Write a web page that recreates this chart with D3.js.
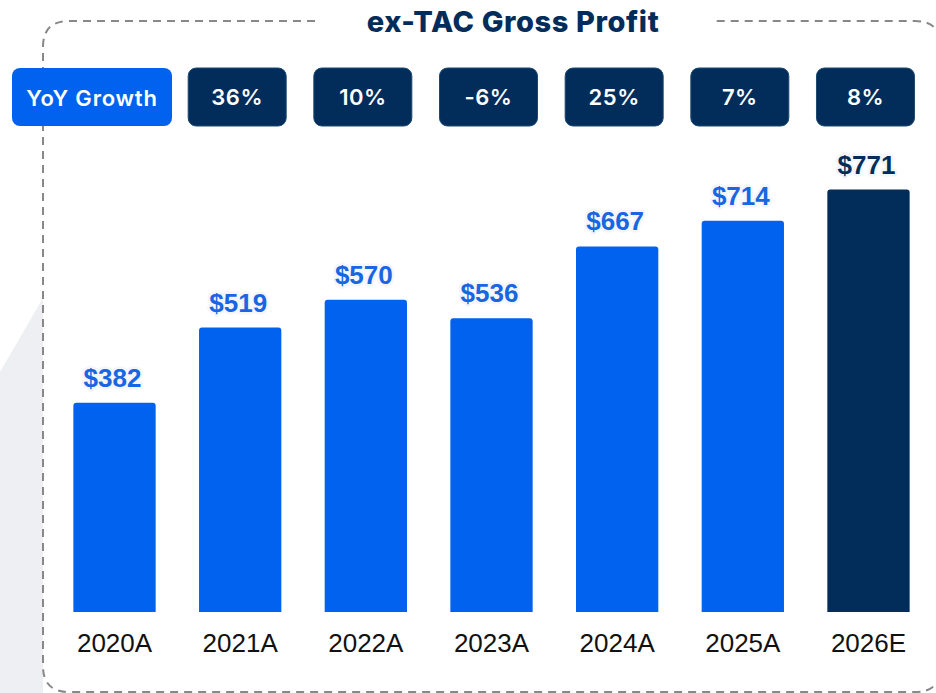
<!DOCTYPE html>
<html><head><meta charset="utf-8">
<script src="https://cdn.jsdelivr.net/npm/d3@7/dist/d3.min.js"></script>
<style>html,body{margin:0;padding:0;background:#fff;}svg{display:block;}</style>
</head><body>
<script>
const categories = ["2020A","2021A","2022A","2023A","2024A","2025A","2026E"];
const values = [382, 519, 570, 536, 667, 714, 771];
const estimate = [false,false,false,false,false,false,true];
const growthLabels = ["36%","10%","-6%","25%","7%","8%"];
const title = "ex-TAC Gross Profit";
const growthTitle = "YoY Growth";

const W = 936, H = 693;
const blue = "#0062EE", navy = "#022D5B";
const svg = d3.select("body").append("svg").attr("width", W).attr("height", H);

// background gray shape (left)
svg.append("path").attr("d", "M43,298 L0,372 L0,693 L43,693 Z").attr("fill", "#edeff3");

// frame
svg.append("rect").attr("x", 43).attr("y", 21).attr("width", 898).attr("height", 671)
  .attr("rx", 26).attr("fill", "#fff");
const fx0 = 43, fy0 = 21, fx1 = 941, fy1 = 692, r = 26;
svg.append("path")
  .attr("d", `M315,${fy0} L${fx0+r},${fy0} Q${fx0},${fy0} ${fx0},${fy0+r} L${fx0},${fy1-r} Q${fx0},${fy1} ${fx0+r},${fy1} L${fx1-r},${fy1} Q${fx1},${fy1} ${fx1},${fy1-r} L${fx1},${fy0+r} Q${fx1},${fy0} ${fx1-r},${fy0} L713,${fy0}`)
  .attr("fill", "none").attr("stroke", "#888").attr("stroke-width", 2).attr("stroke-dasharray", "8,6");

svg.append("text").attr("x", 513).attr("y", 22).attr("dy", "0.36em").attr("text-anchor", "middle")
  .attr("font-family", "Inter, 'Open Sans', sans-serif").attr("font-weight", 800)
  .attr("font-size", 29).attr("letter-spacing", 0.6).attr("fill", navy).text(title);

const x = d3.scaleBand().domain(categories).range([52, 931]).paddingInner(0.345).paddingOuter(0.17);
const y = d3.scaleLinear().domain([0, 771]).range([612, 189.5]);

// YoY growth boxes
svg.append("rect").attr("x", 12).attr("y", 68).attr("width", 160).attr("height", 58).attr("rx", 8).attr("fill", blue);
svg.append("text").attr("x", 92).attr("y", 98).attr("dy", "0.36em").attr("text-anchor", "middle")
  .attr("font-family", "Inter, sans-serif").attr("font-weight", 600).attr("font-size", 22)
  .attr("letter-spacing", 0.8).attr("fill", "#fff").text(growthTitle);

const gb = svg.append("g").selectAll("g").data(growthLabels).join("g")
  .attr("transform", (d, i) => `translate(${x(categories[i+1]) + x.bandwidth()/2 - 3},97)`);
gb.append("rect").attr("x", -49).attr("y", -29).attr("width", 98).attr("height", 58).attr("rx", 8)
  .attr("fill", navy).attr("stroke", "#1b4a6e").attr("stroke-width", 1);
gb.append("text").attr("dy", "0.36em").attr("text-anchor", "middle")
  .attr("font-family", "Inter, sans-serif").attr("font-weight", 600).attr("font-size", 22)
  .attr("letter-spacing", 0.5).attr("fill", "#fff").text(d => d);

// bars
const bars = svg.append("g").selectAll("g").data(categories).join("g");
bars.append("path")
  .attr("d", (d, i) => {
    const x0 = x(d), w = x.bandwidth(), t = y(values[i]), b = y(0), rr = 3;
    return `M${x0},${b} L${x0},${t+rr} Q${x0},${t} ${x0+rr},${t} L${x0+w-rr},${t} Q${x0+w},${t} ${x0+w},${t+rr} L${x0+w},${b} Z`;
  })
  .attr("fill", (d, i) => estimate[i] ? navy : blue);

bars.append("text")
  .attr("x", d => x(d) + x.bandwidth()/2 - 2).attr("y", (d, i) => y(values[i]) - 16)
  .attr("text-anchor", "middle").attr("font-family", "'Liberation Sans', Arial, sans-serif")
  .attr("font-weight", 700).attr("font-size", 26)
  .attr("fill", (d, i) => estimate[i] ? navy : "#1866e2")
  .attr("stroke", "#f4f6f9").attr("stroke-width", 5).attr("stroke-linejoin", "round").attr("paint-order", "stroke")
  .text((d, i) => "$" + values[i]);

// x axis labels
const xAxis = d3.axisBottom(x).tickSize(0).tickPadding(0);
const ax = svg.append("g").attr("transform", "translate(0,612)").call(xAxis);
ax.select(".domain").remove();
ax.selectAll("text").attr("y", 40).attr("dy", 0)
  .attr("font-family", "'Liberation Sans', Arial, sans-serif").attr("font-size", 26).attr("fill", "#111");
</script>
</body></html>
